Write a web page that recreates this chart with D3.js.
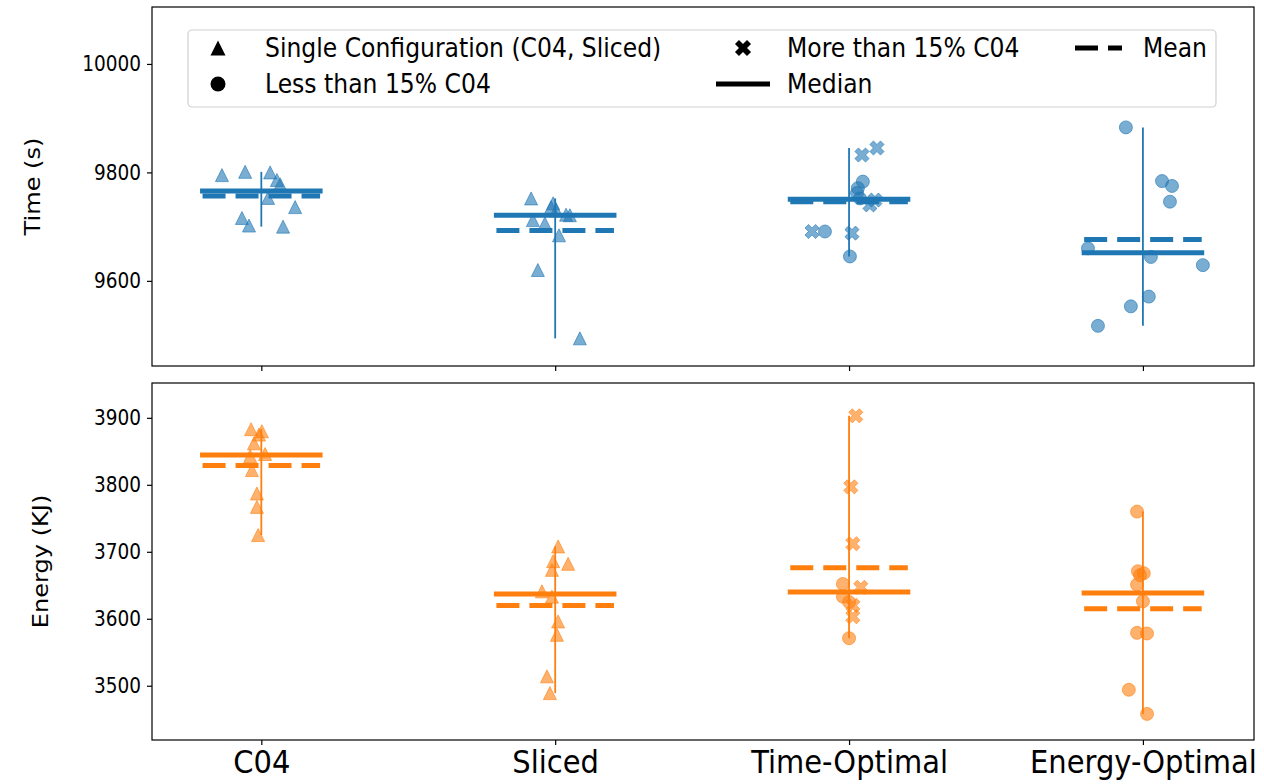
<!DOCTYPE html>
<html>
<head>
<meta charset="utf-8">
<script src="https://cdn.jsdelivr.net/npm/d3@7"></script>
<style>
  html, body { margin: 0; padding: 0; background: #ffffff; }
  svg { display: block; }
  text { font-family: "DejaVu Sans", sans-serif; fill: #000; }
</style>
</head>
<body>
<svg id="chart" width="1264" height="784"></svg>
<script>
// ---------------- data ----------------
const categories = ["C04", "Sliced", "Time-Optimal", "Energy-Optimal"];
const timeTicks = [9600, 9800, 10000];
const energyTicks = [3500, 3600, 3700, 3800, 3900];
const legendLabels = ["Single Configuration (C04, Sliced)", "Less than 15% C04", "More than 15% C04", "Median", "Mean"];
const axisLabels = ["Time (s)", "Energy (KJ)"];

// Time (s) values per category, with horizontal jitter (category units) and marker type
const timeC04 = [9795, 9801, 9800, 9786, 9778, 9753, 9736, 9716, 9702, 9700];
const timeC04Jitter = [-0.134, -0.055, 0.030, 0.053, 0.064, 0.023, 0.115, -0.066, -0.042, 0.074];
const timeC04Marker = ["t", "t", "t", "t", "t", "t", "t", "t", "t", "t"];

const timeSliced = [9752, 9743, 9736, 9730, 9722, 9721, 9712, 9706, 9684, 9620, 9494];
const timeSlicedJitter = [-0.082, -0.007, -0.014, 0.003, 0.037, 0.050, -0.076, -0.035, 0.013, -0.059, 0.084];
const timeSlicedMarker = ["t", "t", "t", "t", "t", "t", "t", "t", "t", "t", "t"];

const timeTimeOpt = [9832, 9845, 9740, 9749, 9691, 9688, 9783, 9771, 9762, 9752, 9691, 9645];
const timeTimeOptJitter = [0.044, 0.095, 0.071, 0.088, -0.126, 0.010, 0.047, 0.030, 0.027, 0.037, -0.082, 0.003];
const timeTimeOptMarker = ["x", "x", "x", "x", "x", "x", "o", "o", "o", "o", "o", "o"];

const timeEnergyOpt = [9883, 9784, 9775, 9746, 9660, 9644, 9629, 9571, 9553, 9517];
const timeEnergyOptJitter = [-0.058, 0.065, 0.099, 0.092, -0.187, 0.027, 0.204, 0.020, -0.041, -0.153];
const timeEnergyOptMarker = ["o", "o", "o", "o", "o", "o", "o", "o", "o", "o"];

// Energy (KJ) values per category
const energyC04 = [3883, 3880, 3875, 3862, 3846, 3843, 3822, 3787, 3767, 3725];
const energyC04Jitter = [-0.035, 0.002, -0.008, -0.025, 0.013, -0.038, -0.032, -0.015, -0.015, -0.011];
const energyC04Marker = ["t", "t", "t", "t", "t", "t", "t", "t", "t", "t"];

const energySliced = [3708, 3686, 3682, 3673, 3641, 3633, 3596, 3576, 3514, 3489];
const energySlicedJitter = [0.010, -0.007, 0.044, -0.011, -0.045, -0.011, 0.010, 0.006, -0.028, -0.018];
const energySlicedMarker = ["t", "t", "t", "t", "t", "t", "t", "t", "t", "t"];

const energyTimeOpt = [3903, 3797, 3712, 3647, 3620, 3603, 3652, 3633, 3625, 3571];
const energyTimeOptJitter = [0.023, 0.006, 0.013, 0.040, 0.013, 0.013, -0.021, -0.021, 0.000, 0.000];
const energyTimeOptMarker = ["x", "x", "x", "x", "x", "x", "o", "o", "o", "o"];

const energyEnergyOpt = [3760, 3671, 3668, 3665, 3651, 3626, 3579, 3578, 3494, 3458];
const energyEnergyOptJitter = [-0.020, -0.017, 0.003, -0.010, -0.020, 0.000, -0.020, 0.014, -0.048, 0.014];
const energyEnergyOptMarker = ["o", "o", "o", "o", "o", "o", "o", "o", "o", "o"];

// ---------------- layout / style ----------------
const left = 152, right = 1254;
const colors = ["#1f77b4", "#ff7f0e"];
const TS = 1.12; // slight vertical stretch of the glyphs, as in the reference

const panels = [
  {
    top: 7, bottom: 366, domain: [9443, 10105], ticks: timeTicks, label: axisLabels[0], labelX: 32,
    color: colors[0], showXLabels: false,
    values: [timeC04, timeSliced, timeTimeOpt, timeEnergyOpt],
    jitter: [timeC04Jitter, timeSlicedJitter, timeTimeOptJitter, timeEnergyOptJitter],
    markers: [timeC04Marker, timeSlicedMarker, timeTimeOptMarker, timeEnergyOptMarker]
  },
  {
    top: 383, bottom: 740, domain: [3419, 3952], ticks: energyTicks, label: axisLabels[1], labelX: 40,
    color: colors[1], showXLabels: true,
    values: [energyC04, energySliced, energyTimeOpt, energyEnergyOpt],
    jitter: [energyC04Jitter, energySlicedJitter, energyTimeOptJitter, energyEnergyOptJitter],
    markers: [energyC04Marker, energySlicedMarker, energyTimeOptMarker, energyEnergyOptMarker]
  }
];

const svg = d3.select("#chart");
const x = d3.scaleLinear().domain([-0.372, 3.378]).range([left, right]);

// marker shapes (matplotlib-like)
function markerPath(type, s) {
  if (type === "o") {
    return d3.symbol(d3.symbolCircle, Math.PI * (s / 2) * (s / 2))();
  }
  if (type === "t") {
    const h = s / 2;
    return `M0,${-h}L${h},${h}L${-h},${h}Z`;
  }
  // filled X: plus rotated by 45 degrees
  const pts = [[-1,-3],[-1,-1],[-3,-1],[-3,1],[-1,1],[-1,3],[1,3],[1,1],[3,1],[3,-1],[1,-1],[1,-3]];
  const c = Math.SQRT1_2;
  const p = d3.path();
  pts.forEach(([a, b], i) => {
    const px = (a * c - b * c) / 6 * s;
    const py = (a * c + b * c) / 6 * s;
    if (i === 0) p.moveTo(px, py); else p.lineTo(px, py);
  });
  p.closePath();
  return p.toString();
}
const markerSize = { t: 13, o: 13, x: 15 };
const halfWidth = 0.2;

panels.forEach(pn => {
  const y = d3.scaleLinear().domain(pn.domain).range([pn.bottom, pn.top]);
  const g = svg.append("g");

  // y axis
  const yAxis = d3.axisLeft(y).tickValues(pn.ticks).tickSize(5).tickSizeOuter(0).tickPadding(6).tickFormat(d3.format("d"));
  const ya = g.append("g").attr("transform", `translate(${left},0)`).call(yAxis);
  ya.select(".domain").remove();
  ya.selectAll("line").attr("stroke", "#000").attr("stroke-width", 1.2);
  ya.selectAll("text").style("font-family", "DejaVu Sans").style("font-size", "18.5px").attr("fill", "#000")
    .attr("transform", `scale(1,${TS})`);

  // x axis
  const xAxis = d3.axisBottom(x).tickValues(d3.range(categories.length)).tickSize(5).tickSizeOuter(0).tickPadding(4)
    .tickFormat(i => pn.showXLabels ? categories[i] : "");
  const xa = g.append("g").attr("transform", `translate(0,${pn.bottom})`).call(xAxis);
  xa.select(".domain").remove();
  xa.selectAll("line").attr("stroke", "#000").attr("stroke-width", 1.2);
  xa.selectAll("text").style("font-family", "DejaVu Sans").style("font-size", "29px").attr("fill", "#000")
    .attr("transform", `scale(1,${TS})`);

  // y label
  g.append("text")
    .attr("transform", `translate(${pn.labelX},${(pn.top + pn.bottom) / 2}) scale(1,${TS}) rotate(-90)`)
    .attr("text-anchor", "middle")
    .attr("dominant-baseline", "central")
    .style("font-size", "21.5px")
    .text(pn.label);

  // per-category lines
  categories.forEach((cat, i) => {
    const vals = pn.values[i];
    const mn = d3.min(vals), mx = d3.max(vals);
    const med = d3.median(vals), mean = d3.mean(vals);
    g.append("line")
      .attr("x1", x(i)).attr("x2", x(i))
      .attr("y1", y(mn)).attr("y2", y(mx))
      .attr("stroke", pn.color).attr("stroke-width", 1.8);
    g.append("line")
      .attr("x1", x(i - halfWidth)).attr("x2", x(i + halfWidth))
      .attr("y1", y(med)).attr("y2", y(med))
      .attr("stroke", pn.color).attr("stroke-width", 5).attr("stroke-linecap", "square");
    g.append("line")
      .attr("x1", x(i - halfWidth)).attr("x2", x(i + halfWidth))
      .attr("y1", y(mean)).attr("y2", y(mean))
      .attr("stroke", pn.color).attr("stroke-width", 5).attr("stroke-dasharray", "23,10");
  });

  // points
  categories.forEach((cat, i) => {
    const pts = pn.values[i].map((v, k) => ({ v, j: pn.jitter[i][k], m: pn.markers[i][k] }));
    g.selectAll(null).data(pts).enter().append("path")
      .attr("d", d => markerPath(d.m, markerSize[d.m]))
      .attr("transform", d => `translate(${x(i + d.j)},${y(d.v)})`)
      .attr("fill", pn.color).attr("fill-opacity", 0.6)
      .attr("stroke", pn.color).attr("stroke-opacity", 0.6).attr("stroke-width", 1);
  });

  // frame
  g.append("rect")
    .attr("x", left).attr("y", pn.top)
    .attr("width", right - left).attr("height", pn.bottom - pn.top)
    .attr("fill", "none").attr("stroke", "#000").attr("stroke-width", 1.2);
});

// ---------------- legend ----------------
const lg = svg.append("g");
lg.append("rect")
  .attr("x", 188).attr("y", 30).attr("width", 1028).attr("height", 77).attr("rx", 4)
  .attr("fill", "#fff").attr("fill-opacity", 0.8).attr("stroke", "#d0d0d0").attr("stroke-width", 1.2);

const row1 = 48, row2 = 84;
const fs = "23.5px";
function legendText(xp, yp, s) {
  lg.append("text")
    .attr("transform", `translate(${xp},${yp}) scale(1,${TS})`)
    .attr("dominant-baseline", "central")
    .style("font-size", fs).text(s);
}
// column 1
lg.append("path").attr("d", markerPath("t", 15)).attr("transform", `translate(218,${row1})`).attr("fill", "#000");
legendText(265, row1, legendLabels[0]);
lg.append("path").attr("d", markerPath("o", 15)).attr("transform", `translate(218,${row2})`).attr("fill", "#000");
legendText(265, row2, legendLabels[1]);
// column 2
lg.append("path").attr("d", markerPath("x", 17)).attr("transform", `translate(743,${row1})`).attr("fill", "#000");
legendText(787, row1, legendLabels[2]);
lg.append("line").attr("x1", 716).attr("x2", 770).attr("y1", row2).attr("y2", row2)
  .attr("stroke", "#000").attr("stroke-width", 5);
legendText(787, row2, legendLabels[3]);
// column 3
lg.append("line").attr("x1", 1075).attr("x2", 1122).attr("y1", row1).attr("y2", row1)
  .attr("stroke", "#000").attr("stroke-width", 5).attr("stroke-dasharray", "23,10");
legendText(1143, row1, legendLabels[4]);
</script>
</body>
</html>
